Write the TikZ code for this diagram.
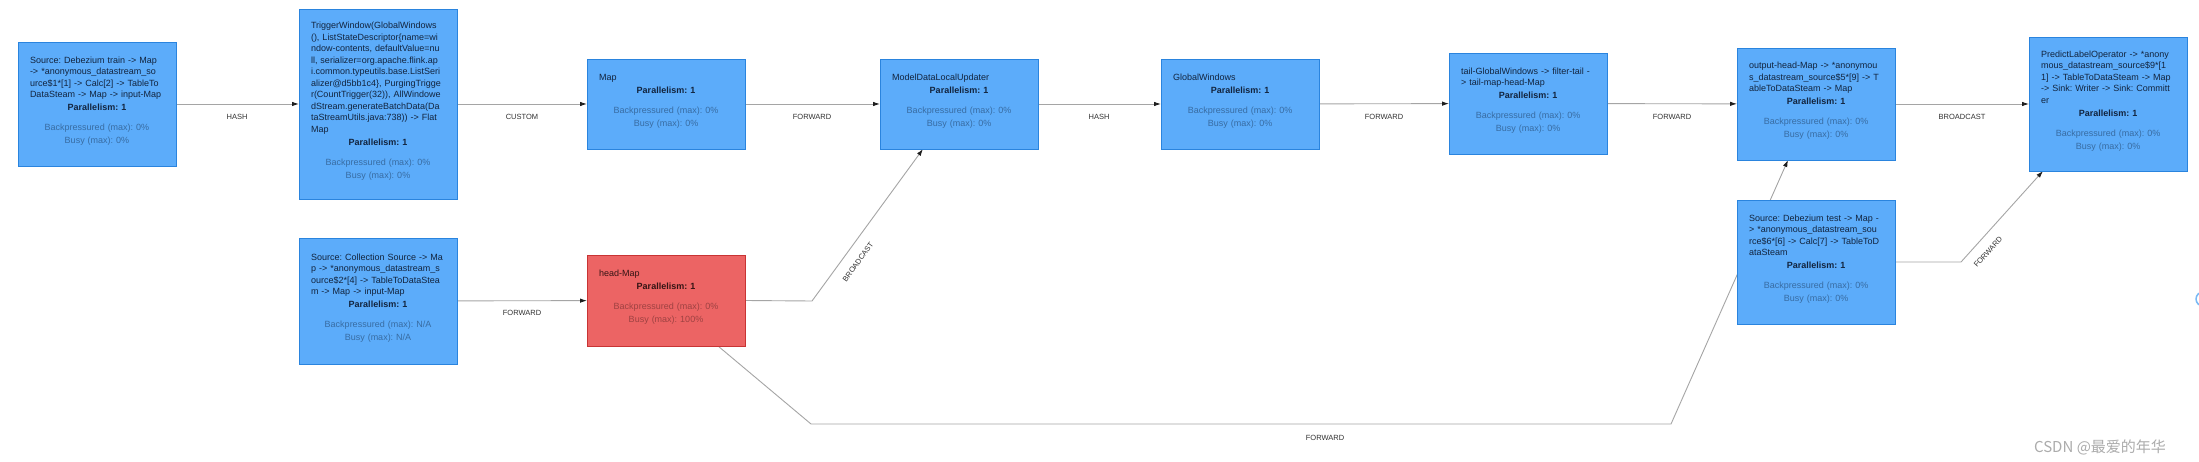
\documentclass[tikz,border=0pt]{standalone}
\usepackage{fontspec}
\setmainfont{Liberation Sans}
\newfontfamily\cjkfont{Noto Sans CJK SC}
\usetikzlibrary{arrows.meta,calc}
\pgfdeclarelayer{paper}
\pgfdeclarelayer{bg}
\pgfsetlayers{paper,bg,main}
\frenchspacing
\definecolor{opfill}{RGB}{92,172,250}
\definecolor{opborder}{RGB}{42,132,222}
\definecolor{hotfill}{RGB}{236,100,100}
\definecolor{hotborder}{RGB}{200,52,52}
\definecolor{titleb}{RGB}{18,36,62}
\definecolor{titler}{RGB}{52,20,20}
\definecolor{statb}{RGB}{56,108,162}
\definecolor{statr}{RGB}{158,66,66}
\definecolor{edgegray}{RGB}{165,165,165}
\definecolor{arrowc}{RGB}{30,30,30}
\definecolor{labelc}{RGB}{50,50,50}
\definecolor{ringc}{RGB}{120,185,245}
\newcommand\tln[1]{\makebox[134pt][l]{#1}}
\newcommand\opstats[3]{\\[1.5pt]\textbf{Parallelism: 1}\\[8.5pt]\textcolor{#1}{Backpressured (max): #2}\\[1.5pt]\textcolor{#1}{Busy (max): #3}}
\tikzset{
  opbox/.style={draw=opborder, fill=opfill, line width=0.8pt, minimum width=158pt,
    anchor=north west, inner sep=0pt, outer sep=0pt},
  hotbox/.style={opbox, draw=hotborder, fill=hotfill},
  optext/.style={text width=134pt, align=center, inner sep=0pt,
    font=\fontsize{9}{11.5}\selectfont, text=titleb},
  hottext/.style={optext, text=titler},
  flow/.style={draw=edgegray, line width=0.9pt,
    -{Latex[length=7pt,width=4.5pt,color=arrowc]}},
  elabel/.style={font=\fontsize{7.5}{9}\selectfont, text=labelc, inner sep=0pt},
}
\begin{document}
\begin{tikzpicture}[x=1pt,y=-1pt]
\useasboundingbox (0,0) rectangle (2199,462);
\begin{pgfonlayer}{paper}
\fill[white] (0,0) rectangle (2199,462);
\end{pgfonlayer}

% operator boxes
\node[opbox, minimum height=124pt] (n1) at (18,42) {};
\node[opbox, minimum height=190pt] (n2) at (299,9) {};
\node[opbox, minimum height=90pt] (n3) at (587,59) {};
\node[opbox, minimum height=90pt] (n4) at (880,59) {};
\node[opbox, minimum height=90pt] (n5) at (1161,59) {};
\node[opbox, minimum height=101pt] (n6) at (1449,53) {};
\node[opbox, minimum height=112pt] (n7) at (1737,48) {};
\node[opbox, minimum height=134pt] (n8) at (2029,37) {};
\node[opbox, minimum height=126pt] (n9) at (299,238) {};
\node[hotbox, minimum height=91pt] (n10) at (587,255) {};
\node[opbox, minimum height=124pt] (n11) at (1737,200) {};

% texts
\node[optext] (t1) at ([yshift=3pt]n1.center) {\tln{Source: Debezium train -> Map}\\\tln{-> *anonymous\_datastream\_so}\\\tln{urce\$1*[1] -> Calc[2] -> TableTo}\\\tln{DataSteam -> Map -> input-Map}\opstats{statb}{0\%}{0\%}};
\node[optext] (t2) at ([yshift=3pt]n2.center) {\tln{TriggerWindow(GlobalWindows}\\\tln{(), ListStateDescriptor\{name=wi}\\\tln{ndow-contents, defaultValue=nu}\\\tln{ll, serializer=org.apache.flink.ap}\\\tln{i.common.typeutils.base.ListSeri}\\\tln{alizer@d5bb1c4\}, PurgingTrigge}\\\tln{r(CountTrigger(32)), AllWindowe}\\\tln{dStream.generateBatchData(Da}\\\tln{taStreamUtils.java:738)) -> Flat}\\\tln{Map}\opstats{statb}{0\%}{0\%}};
\node[optext] (t3) at ([yshift=3pt]n3.center) {\tln{Map}\opstats{statb}{0\%}{0\%}};
\node[optext] (t4) at ([yshift=3pt]n4.center) {\tln{ModelDataLocalUpdater}\opstats{statb}{0\%}{0\%}};
\node[optext] (t5) at ([yshift=3pt]n5.center) {\tln{GlobalWindows}\opstats{statb}{0\%}{0\%}};
\node[optext] (t6) at ([yshift=3pt]n6.center) {\tln{tail-GlobalWindows -> filter-tail -}\\\tln{> tail-map-head-Map}\opstats{statb}{0\%}{0\%}};
\node[optext] (t7) at ([yshift=3pt]n7.center) {\tln{output-head-Map -> *anonymou}\\\tln{s\_datastream\_source\$5*[9] -> T}\\\tln{ableToDataSteam -> Map}\opstats{statb}{0\%}{0\%}};
\node[optext] (t8) at ([yshift=3pt]n8.center) {\tln{PredictLabelOperator -> *anony}\\\tln{mous\_datastream\_source\$9*[1}\\\tln{1] -> TableToDataSteam -> Map}\\\tln{-> Sink: Writer -> Sink: Committ}\\\tln{er}\opstats{statb}{0\%}{0\%}};
\node[optext] (t9) at ([yshift=3pt]n9.center) {\tln{Source: Collection Source -> Ma}\\\tln{p -> *anonymous\_datastream\_s}\\\tln{ource\$2*[4] -> TableToDataStea}\\\tln{m -> Map -> input-Map}\opstats{statb}{N/A}{N/A}};
\node[hottext] (t10) at ([yshift=3pt]n10.center) {\tln{head-Map}\opstats{statr}{0\%}{100\%}};
\node[optext] (t11) at ([yshift=3pt]n11.center) {\tln{Source: Debezium test -> Map -}\\\tln{> *anonymous\_datastream\_sou}\\\tln{rce\$6*[6] -> Calc[7] -> TableToD}\\\tln{ataSteam}\opstats{statb}{0\%}{0\%}};

% bend points
\coordinate (c1) at (812,301);
\coordinate (e1) at ($(n4.south west)+(43,0)$);
\coordinate (s2) at ($(n10.south west)+(131,0)$);
\coordinate (c2) at (811,424);
\coordinate (c3) at (1671,424);
\coordinate (e2) at ($(n7.south west)+(51,0)$);
\coordinate (c4) at (1961,262);
\coordinate (e3) at ($(n8.south west)+(14,0)$);

\begin{pgfonlayer}{bg}
\draw[flow] (n1) -- (n2);
\draw[flow] (n2) -- (n3);
\draw[flow] (n3) -- (n4);
\draw[flow] (n4) -- (n5);
\draw[flow] (n5) -- (n6);
\draw[flow] (n6) -- (n7);
\draw[flow] (n7) -- (n8);
\draw[flow] (n9) -- (n10);
\draw[flow] (n10.east) -- (c1) -- (e1);
\draw[flow] (s2) -- (c2) -- (c3) -- (e2);
\draw[flow] (n11.east) -- (c4) -- (e3);
\end{pgfonlayer}

% edge labels
\node[elabel] (l1) at (237,117) {HASH};
\node[elabel] (l2) at (522,117) {CUSTOM};
\node[elabel] (l3) at (812,117) {FORWARD};
\node[elabel] (l4) at (1099,117) {HASH};
\node[elabel] (l5) at (1384,117) {FORWARD};
\node[elabel] (l6) at (1672,117) {FORWARD};
\node[elabel] (l7) at (1962,117) {BROADCAST};
\node[elabel] (l8) at (522,313) {FORWARD};
\node[elabel, rotate=54] (l9) at (858,262) {BROADCAST};
\node[elabel] (l10) at (1325,438) {FORWARD};
\node[elabel, rotate=48] (l11) at (1988,252) {FORWARD};

% watermark and edge ring
\node[text=gray!65, font=\cjkfont\fontsize{15}{15}\selectfont, inner sep=0pt] (wm) at (2100,447) {CSDN @最爱的年华};
\draw[ringc, line width=1.5pt] (2203,299) circle[radius=7];
\end{tikzpicture}
\end{document}
